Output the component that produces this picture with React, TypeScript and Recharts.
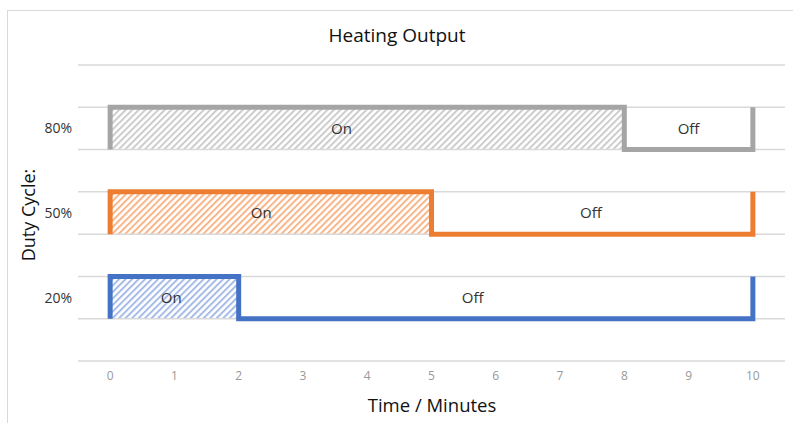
import {
  ComposedChart,
  Line,
  XAxis,
  YAxis,
  ReferenceLine,
  ReferenceArea,
  Scatter,
} from 'recharts'

// minutes along the bottom axis
const minuteTicks = [0, 1, 2, 3, 4, 5, 6, 7, 8, 9, 10]
// horizontal grid levels (row boundaries)
const gridLevels = [0, 1, 2, 3, 4, 5, 6, 7]
// duty-cycle rows, centre of each row on the y scale
const cycleLabels = ['20%', '50%', '80%']
const cycleCentres = [1.5, 3.5, 5.5]

// step outlines of each duty cycle
const line80 = [
  { x: 0, y: 5 }, { x: 0, y: 6 }, { x: 8, y: 6 }, { x: 8, y: 5 }, { x: 10, y: 5 }, { x: 10, y: 6 },
]
const line50 = [
  { x: 0, y: 3 }, { x: 0, y: 4 }, { x: 5, y: 4 }, { x: 5, y: 3 }, { x: 10, y: 3 }, { x: 10, y: 4 },
]
const line20 = [
  { x: 0, y: 1 }, { x: 0, y: 2 }, { x: 2, y: 2 }, { x: 2, y: 1 }, { x: 10, y: 1 }, { x: 10, y: 2 },
]

// hatched "on" regions
const onAreas = [
  { x1: 0, x2: 8, y1: 5, y2: 6, fill: 'url(#hatchGray)' },
  { x1: 0, x2: 5, y1: 3, y2: 4, fill: 'url(#hatchOrange)' },
  { x1: 0, x2: 2, y1: 1, y2: 2, fill: 'url(#hatchBlue)' },
]

// in-chart text
const stateLabels = [
  { x: 3.6, y: 5.5, text: 'On' },
  { x: 9.0, y: 5.5, text: 'Off' },
  { x: 2.35, y: 3.5, text: 'On' },
  { x: 7.48, y: 3.5, text: 'Off' },
  { x: 0.95, y: 1.5, text: 'On' },
  { x: 5.64, y: 1.5, text: 'Off' },
]

const FONT = '"Open Sans", "Noto Sans", sans-serif'

function StateText(props: any) {
  const { cx, cy, payload } = props
  return (
    <text x={cx} y={cy} dy="0.35em" textAnchor="middle" fill="#333333" fontSize={15} fontFamily={FONT}>
      {payload.text}
    </text>
  )
}

function Hatch({ id, color }: { id: string; color: string }) {
  return (
    <pattern id={id} patternUnits="userSpaceOnUse" width="4.6" height="4.6" patternTransform="rotate(45)">
      <line x1="1" y1="0" x2="1" y2="4.6" stroke={color} strokeWidth="2" />
    </pattern>
  )
}

export default function App() {
  return (
    <div style={{ position: 'fixed', left: 0, top: 0, width: 793, height: 423, overflow: 'hidden', background: '#fff', fontFamily: FONT }}>
      <div style={{ position: 'absolute', left: 7, top: 10, width: 820, height: 440, border: '1px solid #d9d9d9' }} />
      <div style={{ position: 'absolute', left: 397, top: 35, transform: 'translate(-50%, -50%)', fontSize: 19, color: '#111', whiteSpace: 'nowrap' }}>
        Heating Output
      </div>
      <div style={{ position: 'absolute', left: 28, top: 215, transform: 'translate(-50%, -50%) rotate(-90deg)', fontSize: 18, color: '#111', whiteSpace: 'nowrap' }}>
        Duty Cycle:
      </div>
      <div style={{ position: 'absolute', left: 432, top: 404, transform: 'translate(-50%, -50%)', fontSize: 18.5, color: '#111', whiteSpace: 'nowrap' }}>
        Time / Minutes
      </div>
      <div style={{ position: 'absolute', left: 0, top: 0 }}>
        <ComposedChart width={793} height={423} margin={{ top: 65, right: 8, left: 8, bottom: 32 }}>
          <defs>
            <Hatch id="hatchGray" color="#cccccc" />
            <Hatch id="hatchOrange" color="#f7b68a" />
            <Hatch id="hatchBlue" color="#a6bce6" />
          </defs>
          <XAxis
            type="number"
            dataKey="x"
            domain={[-0.5, 10.5]}
            ticks={minuteTicks}
            axisLine={false}
            tickLine={false}
            tickSize={0}
            tickMargin={10}
            height={30}
            tick={{ fill: '#999999', fontSize: 12, fontFamily: FONT }}
            allowDataOverflow
          />
          <YAxis
            type="number"
            dataKey="y"
            domain={[0, 7]}
            ticks={cycleCentres}
            tickFormatter={(v: number) => cycleLabels[cycleCentres.indexOf(v)] ?? ''}
            axisLine={false}
            tickLine={false}
            tickSize={0}
            tickMargin={6}
            width={70}
            tick={{ fill: '#333333', fontSize: 14, fontFamily: FONT }}
          />
          {gridLevels.map(g => (
            <ReferenceLine key={g} y={g} stroke="#d9d9d9" strokeWidth={1.5} />
          ))}
          {onAreas.map((a, i) => (
            <ReferenceArea key={i} x1={a.x1} x2={a.x2} y1={a.y1} y2={a.y2} fill={a.fill} fillOpacity={1} stroke="none" />
          ))}
          <Line data={line80} dataKey="y" type="linear" stroke="#a5a5a5" strokeWidth={5} dot={false} isAnimationActive={false} strokeLinejoin="miter" />
          <Line data={line50} dataKey="y" type="linear" stroke="#ed7d31" strokeWidth={5} dot={false} isAnimationActive={false} strokeLinejoin="miter" />
          <Line data={line20} dataKey="y" type="linear" stroke="#4472c4" strokeWidth={5} dot={false} isAnimationActive={false} strokeLinejoin="miter" />
          <Scatter data={stateLabels} dataKey="y" shape={StateText} isAnimationActive={false} />
        </ComposedChart>
      </div>
    </div>
  )
}
